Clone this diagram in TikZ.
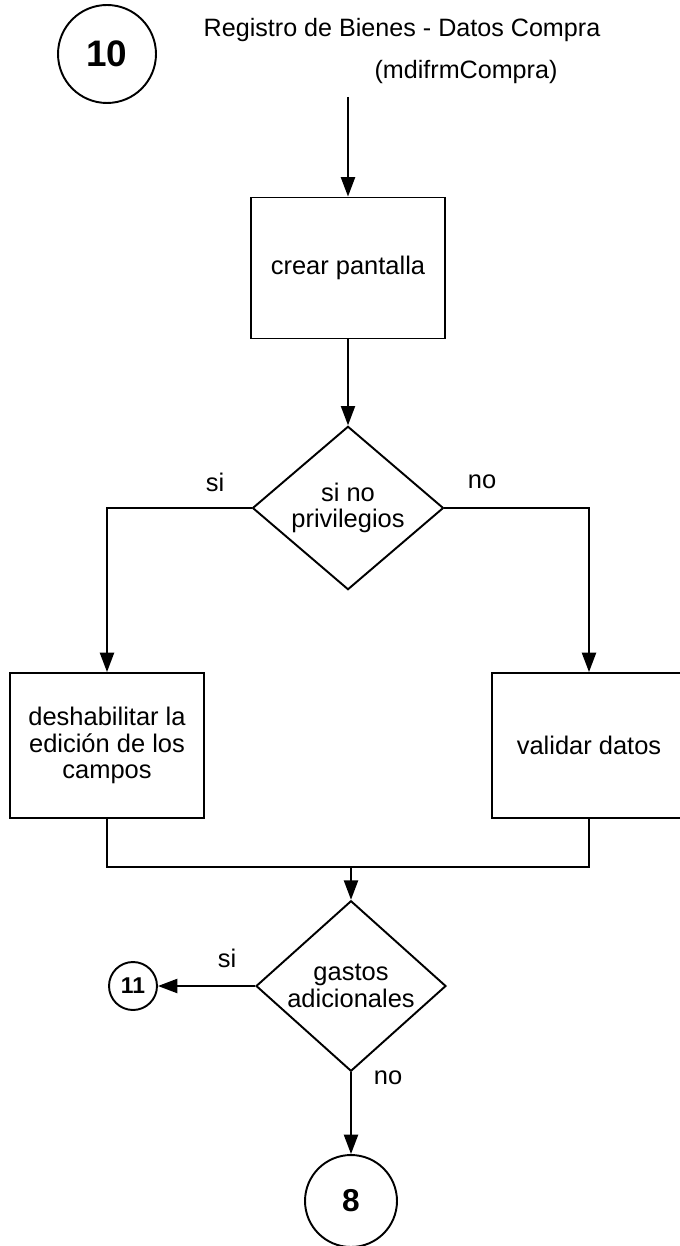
\documentclass[tikz,border=0pt]{standalone}
\usepackage{fontspec}
\setmainfont{Liberation Sans}
\usetikzlibrary{shapes.geometric,arrows.meta}
\def\boxfont{\fontsize{14.5}{15}\selectfont}
\def\titlefont{\fontsize{14.3}{16}\selectfont}

\begin{document}
\begin{tikzpicture}[x=0.02cm,y=-0.02cm,line width=1.1pt,>={Triangle[length=11pt,width=8pt]}]
            \tikzstyle{proc}=[draw,rectangle,minimum width=3.88cm,minimum height=2.82cm,align=center,font=\boxfont]
            \tikzstyle{big proc}=[proc,minimum height=2.9cm]
            \tikzstyle{decision}=[draw,diamond,minimum width=3.82cm,minimum height=2.84cm,inner sep=0pt,align=center,font=\boxfont]
            \tikzstyle{conn}=[draw,circle,inner sep=0pt]
            \tikzstyle{annot}=[font=\boxfont,inner sep=0pt]

            \useasboundingbox (0,0) rectangle (679,1246);

            % Header
            \node[conn,minimum size=1.96cm,font=\fontsize{21}{23}\selectfont\bfseries] (C10) at (107,54) {10};
            \node[font=\titlefont] (TITLE) at (402,30) {Registro de Bienes - Datos Compra};
            \node[font=\titlefont] (FORM) at (466,72) {(mdifrmCompra)};
            \coordinate (START) at (348,97);

            % Main flow
            \node[proc] (CREAR) at (348,268) {crear pantalla};
            \node[decision] (PRIV) at (348,508) {si no\\privilegios};
            \node[big proc] (DESH) at (107,745.5) {deshabilitar la\\edición de los\\campos};
            \node[big proc] (VALID) at (589,745.5) {validar datos};
            \coordinate (MERGE) at (351,867);
            \node[decision,minimum width=3.8cm,minimum height=2.78cm] (GASTOS) at (351,986) {gastos\\adicionales};
            \node[conn,minimum size=0.96cm,font=\fontsize{13}{15}\selectfont\bfseries] (C11) at (133,986) {11};
            \node[conn,minimum size=1.84cm,font=\fontsize{18}{20}\selectfont\bfseries] (C8) at (351,1201) {8};

            % Branch labels
            \node[annot] (SI1) at (215,482) {si};
            \node[annot] (NO1) at (482,482) {no};
            \node[annot] (SI2) at (227,958) {si};
            \node[annot] (NO2) at (388,1078) {no};

            % Connect the nodes
            \draw[->] (START) -- (CREAR);
            \draw[->] (CREAR) -- (PRIV);
            \draw[->] (PRIV.west) -| (DESH.north);
            \draw[->] (PRIV.east) -| (VALID.north);
            \draw (DESH.south) |- (MERGE) -| (VALID.south);
            \draw[->] (MERGE) -- (GASTOS);
            \draw[->] (GASTOS.west) -- (C11);
            \draw[->] (GASTOS) -- (C8);
        \end{tikzpicture}
\end{document}
